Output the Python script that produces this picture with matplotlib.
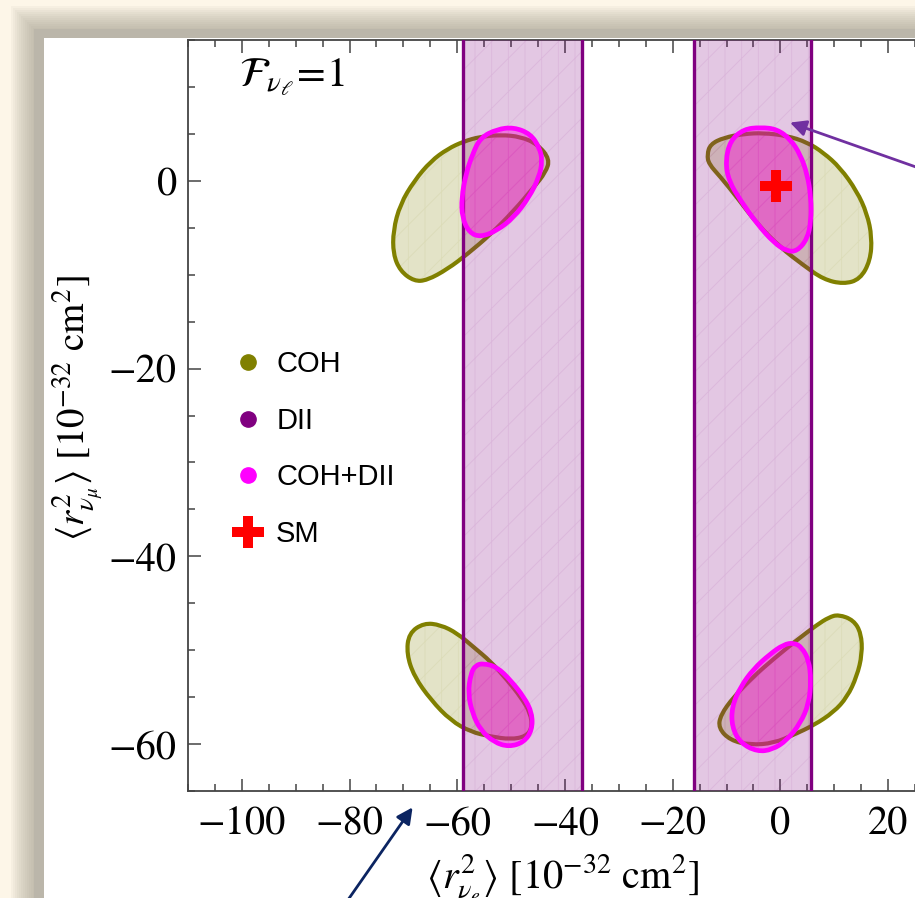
import numpy as np
import matplotlib.pyplot as plt
from matplotlib.patches import PathPatch, Rectangle
from matplotlib.path import Path
from matplotlib.lines import Line2D

plt.rcParams['mathtext.fontset'] = 'stix'
plt.rcParams['font.family'] = 'STIXGeneral'
plt.rcParams['hatch.linewidth'] = 0.6

# --- allowed regions, <r^2_nu_e> vs <r^2_nu_mu> in 10^-32 cm^2 ---
# COH contours (4 islands)
coh_ul_x = [-71.9, -70.6, -68.0, -64.9, -61.8, -58.8, -55.7, -52.0, -48.2, -45.1, -42.8,
            -43.6, -45.8, -49.5, -53.8, -58.1, -61.8, -65.6, -68.0, -70.6, -71.9]
coh_ul_y = [-5.3, -2.5, 0.0, 2.1, 3.4, 4.2, 4.7, 4.9, 4.7, 3.9, 2.3,
            0.9, -0.7, -3.2, -5.7, -7.8, -9.4, -10.6, -10.7, -9.6, -7.8]
coh_ur_x = [-13.6, -13.0, -10.5, -6.8, -3.1, 1.2, 5.0, 8.0, 11.1, 14.2, 16.1,
            17.0, 16.7, 14.8, 11.7, 8.0, 4.3, 0.0, -4.3, -8.0, -11.1, -13.3]
coh_ur_y = [2.8, 3.9, 4.6, 5.0, 5.1, 4.8, 4.1, 3.0, 1.4, -1.1, -3.5,
            -6.0, -8.5, -10.5, -11.0, -10.5, -9.0, -7.1, -4.6, -1.8, 0.4, 1.8]
coh_ll_x = [-66.2, -63.1, -60.0, -56.9, -53.8, -50.7, -48.2, -46.4, -46.1,
            -47.3, -50.1, -53.8, -57.5, -61.2, -64.9, -68.0, -69.4, -69.0]
coh_ll_y = [-47.1, -47.3, -48.2, -49.7, -51.2, -53.2, -55.0, -56.7, -58.3,
            -59.2, -59.5, -59.2, -58.7, -57.5, -55.3, -52.8, -50.4, -48.2]
coh_lr_x = [10.8, 13.6, 15.0, 15.2, 14.2, 12.4, 9.9, 6.2, 2.5, -1.2,
            -5.6, -9.3, -11.5, -11.1, -8.7, -5.0, -1.2, 3.1, 6.8, 9.0]
coh_lr_y = [-46.2, -46.8, -48.2, -50.4, -52.8, -55.0, -56.6, -58.0, -59.0, -59.9,
            -60.1, -59.6, -58.3, -56.9, -55.0, -52.8, -50.9, -48.9, -47.3, -46.5]

# COH+DII contours
comb_ul_x = [-55.7, -52.6, -49.5, -46.4, -44.7, -44.2, -44.8, -46.7,
             -49.5, -52.6, -55.7, -57.8, -59.1, -59.2, -58.4, -57.2]
comb_ul_y = [4.6, 5.5, 5.7, 5.0, 3.5, 2.1, 0.4, -1.8,
             -3.9, -5.3, -6.0, -5.5, -3.9, -1.8, 0.7, 2.8]
comb_ur_x = [-3.7, -0.6, 1.9, 3.7, 5.0, 5.7, 5.7, 5.0, 3.1,
             1.2, -1.2, -4.3, -7.4, -9.6, -10.2, -9.3, -6.8]
comb_ur_y = [5.7, 5.5, 4.4, 2.8, 0.7, -1.8, -4.3, -6.2, -7.5,
             -7.5, -6.6, -4.6, -2.1, 0.0, 2.1, 4.3, 5.5]
comb_ll_x = [-55.1, -52.6, -50.1, -47.6, -46.1, -46.1, -47.6,
             -50.4, -53.2, -55.7, -57.2, -58.0, -57.5, -56.6]
comb_ll_y = [-51.4, -51.8, -53.2, -55.0, -56.7, -58.5, -59.8,
             -60.3, -59.8, -58.5, -56.7, -54.6, -52.5, -51.6]
comb_lr_x = [2.5, 4.0, 5.3, 5.7, 5.3, 3.7, 1.2, -1.5,
             -4.3, -7.4, -9.0, -9.0, -7.4, -5.0, -1.9, 0.6]
comb_lr_y = [-49.2, -49.7, -51.1, -53.2, -55.7, -57.8, -59.6, -60.6,
             -60.8, -59.9, -58.2, -56.0, -53.9, -52.0, -50.4, -49.4]

# DII bands on <r^2_nu_e>
dii_bands = [(-59.0, -36.9), (-16.1, 5.6)]

# Standard Model point
sm_x, sm_y = -0.9, -0.5

x_ticks = [-100, -80, -60, -40, -20, 0, 20]
y_ticks = [0, -20, -40, -60]

olive = '#808000'
purple = '#800080'
magenta = '#ff00ff'

W, H = 915, 898
fig = plt.figure(figsize=(W / 100, H / 100), dpi=100, facecolor='#fdf6e8')

# slide panel with soft shadow
for k in range(12):
    off = 33 - 2 * k
    fig.patches.append(Rectangle((off / W, 0), 1, 1 - (off - 5) / H, transform=fig.transFigure,
                                 facecolor='#a39d8e', alpha=0.07, lw=0, zorder=-3))
fig.patches.append(Rectangle((34 / W, 0), 1, 1 - 29 / H, transform=fig.transFigure,
                             facecolor='#bbb6aa', lw=0, zorder=-2))
fig.patches.append(Rectangle((44 / W, 0), 1, 1 - 38 / H, transform=fig.transFigure,
                             facecolor='white', lw=0, zorder=-1))

ax = fig.add_axes([188 / W, 1 - 791 / H, 1 - 188 / W, (791 - 40) / H])
ax.set_zorder(1)
ax.set_xlim(-110, 25)
ax.set_ylim(-65, 15)


def smooth_path(xs, ys):
    # closed quadratic-Bezier outline using the contour points as control points
    pts = np.column_stack([xs, ys])
    mids = 0.5 * (pts + np.roll(pts, -1, axis=0))
    verts = [mids[-1]]
    codes = [Path.MOVETO]
    for p, m in zip(pts, mids):
        verts += [p, m]
        codes += [Path.CURVE3, Path.CURVE3]
    verts.append(mids[-1])
    codes.append(Path.CLOSEPOLY)
    return Path(verts, codes)


def region(xs, ys, face, edge, lw, z):
    path = smooth_path(xs, ys)
    ax.add_patch(PathPatch(path, facecolor=face, edgecolor='none', zorder=z))
    ax.add_patch(PathPatch(path, facecolor='none', edgecolor=(*edge[:3], 0.07),
                           hatch='/|', lw=0, zorder=z))
    ax.add_patch(PathPatch(path, facecolor='none', edgecolor=edge, lw=lw,
                           joinstyle='round', zorder=z + 0.1))


olive_rgb = (0.5, 0.5, 0.0, 1.0)
for xs, ys in [(coh_ul_x, coh_ul_y), (coh_ur_x, coh_ur_y), (coh_ll_x, coh_ll_y), (coh_lr_x, coh_lr_y)]:
    region(xs, ys, (0.5, 0.5, 0.0, 0.22), olive_rgb, 3.0, 2)

for lo, hi in dii_bands:
    ax.axvspan(lo, hi, facecolor=(0.5, 0.0, 0.5, 0.22), edgecolor='none', zorder=3)
    ax.axvspan(lo, hi, facecolor='none', edgecolor=(0.5, 0.0, 0.5, 0.08), hatch='/|', lw=0, zorder=3)
    for xv in (lo, hi):
        ax.axvline(xv, color=purple, lw=2.4, zorder=3.1)

magenta_rgb = (1.0, 0.0, 1.0, 1.0)
for xs, ys in [(comb_ul_x, comb_ul_y), (comb_ur_x, comb_ur_y), (comb_ll_x, comb_ll_y), (comb_lr_x, comb_lr_y)]:
    region(xs, ys, (1.0, 0.0, 0.85, 0.40), magenta_rgb, 3.4, 4)

ax.plot(sm_x, sm_y, marker='P', color='red', markersize=23, markeredgewidth=0, ls='none', zorder=6)

# axes styling
for side in ('left', 'bottom', 'top'):
    ax.spines[side].set_color('#444444')
    ax.spines[side].set_linewidth(1.3)
ax.spines['right'].set_visible(False)
ax.set_xticks(x_ticks)
ax.set_yticks(y_ticks)
ax.set_xticks(np.arange(-110, 26, 5), minor=True)
ax.set_yticks(np.arange(-65, 16, 5), minor=True)
ax.tick_params(which='both', direction='in', top=True, right=False, color='#444444', width=1.1)
ax.tick_params(which='major', length=9, labelsize=29, pad=8)
ax.tick_params(which='minor', length=5)
ax.tick_params(axis='x', pad=11)

ax.set_xlabel(r'$\langle r^2_{\nu_e}\rangle\ [10^{-32}\ \mathrm{cm}^2]$', fontsize=29)
ax.xaxis.set_label_coords(0.516, -0.082)
ax.set_ylabel(r'$\langle r^2_{\nu_\mu}\rangle\ [10^{-32}\ \mathrm{cm}^2]$', fontsize=28)
ax.yaxis.set_label_coords(-0.114, 0.51)

ax.text(-100.5, 11, r'$\mathcal{F}_{\nu_\ell}\!=\!1$', fontsize=30, va='center', ha='left')

handles = [
    Line2D([], [], ls='none', marker='o', color=olive, markersize=11),
    Line2D([], [], ls='none', marker='o', color=purple, markersize=11),
    Line2D([], [], ls='none', marker='o', color=magenta, markersize=11),
    Line2D([], [], ls='none', marker='P', color='red', markersize=23, markeredgewidth=0),
]
ax.legend(handles, ['COH', 'DII', 'COH+DII', 'SM'], loc='upper left',
          bbox_to_anchor=(0.027, 0.622), frameon=False, handlelength=1.0,
          handletextpad=0.45, labelspacing=0.98,
          prop={'family': 'Liberation Sans', 'size': 21})

# pointer arrows
ax.annotate('', xy=(1.3, 6.3), xytext=(28.5, 0.8), annotation_clip=False,
            arrowprops=dict(arrowstyle='-|>', color='#7030a0', lw=2, mutation_scale=24), zorder=7)
ax.annotate('', xy=(-68.0, -66.5), xytext=(-82.0, -78.0), annotation_clip=False,
            arrowprops=dict(arrowstyle='-|>', color='#0b2461', lw=2, mutation_scale=24), zorder=7)

fig.savefig('out.png', dpi=100, facecolor=fig.get_facecolor())
